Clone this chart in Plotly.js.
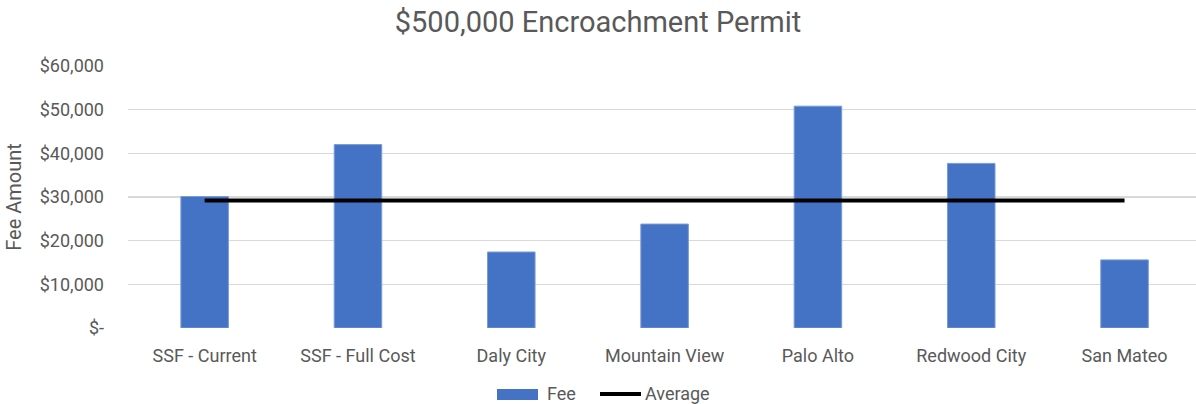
<!DOCTYPE html>
<html>
<head>
<meta charset="utf-8">
<script src="https://cdn.plot.ly/plotly-3.0.1.min.js"></script>
<style>html,body{margin:0;padding:0;background:#fff;}#chart{width:1196px;height:404px;}</style>
</head>
<body>
<div id="chart"></div>
<script>
const categories = ["SSF - Current", "SSF - Full Cost", "Daly City", "Mountain View", "Palo Alto", "Redwood City", "San Mateo"];
const feeValues = [30100, 42000, 17400, 23800, 50800, 37700, 15600];
const averageValues = [29200, 29200, 29200, 29200, 29200, 29200, 29200];
const yTickVals = [0, 10000, 20000, 30000, 40000, 50000, 60000];
const yTickText = ["$-", "$10,000", "$20,000", "$30,000", "$40,000", "$50,000", "$60,000"];
const legendNames = ["Fee", "Average"];

const grey = "#595959";
const W = 1196, H = 404, ML = 128, MR = 0, MT = 66, MB = 76;
const pw = W - ML - MR, ph = H - MT - MB;
const px = v => (v - ML) / pw;
const py = v => (H - MB - v) / ph;

const traces = [
  {type: "bar", name: legendNames[0], x: categories, y: feeValues, width: 0.31, showlegend: false,
   marker: {color: "#4472c4", line: {color: "#7a9bd6", width: 1}}},
  {type: "scatter", mode: "lines", name: legendNames[1], x: categories, y: averageValues, showlegend: false,
   line: {color: "#000000", width: 4}}
];
const layout = {
  width: W, height: H,
  margin: {l: ML, r: MR, t: MT, b: MB},
  paper_bgcolor: "#ffffff", plot_bgcolor: "#ffffff",
  font: {family: "Roboto, sans-serif", color: grey, size: 18},
  title: {text: "$500,000 Encroachment Permit", font: {size: 29, color: grey}, x: 0.5, xref: "container", y: 0.945, yanchor: "middle", yref: "container"},
  xaxis: {range: [-0.5, 6.466], showgrid: false, zeroline: false, showline: false, ticks: "", automargin: false,
          ticklabelstandoff: 15, tickfont: {size: 18, color: grey}},
  yaxis: {range: [0, 60000], tickvals: yTickVals, ticktext: yTickText, showgrid: true, gridcolor: "#d9d9d9", gridwidth: 1.3,
          zeroline: false, showline: false, ticks: "", automargin: false, ticklabelstandoff: 23,
          tickfont: {size: 18, color: grey},
          title: {text: "Fee Amount", font: {size: 20, color: grey}, standoff: 12}},
  showlegend: false,
  shapes: [
    {type: "rect", xref: "paper", yref: "paper", x0: px(497), x1: px(538), y0: py(400), y1: py(389),
     fillcolor: "#4472c4", line: {width: 0}},
    {type: "line", xref: "paper", yref: "paper", x0: px(600), x1: px(641), y0: py(394), y1: py(394),
     line: {color: "#000000", width: 4}}
  ],
  annotations: [
    {text: legendNames[0], xref: "paper", yref: "paper", x: px(545), y: py(394), xanchor: "left", yanchor: "middle",
     showarrow: false, font: {size: 18, color: grey}},
    {text: legendNames[1], xref: "paper", yref: "paper", x: px(643), y: py(394), xanchor: "left", yanchor: "middle",
     showarrow: false, font: {size: 18, color: grey}}
  ],
  bargap: 0.69
};
Plotly.newPlot("chart", traces, layout, {displayModeBar: false, staticPlot: true});
</script>
</body>
</html>
